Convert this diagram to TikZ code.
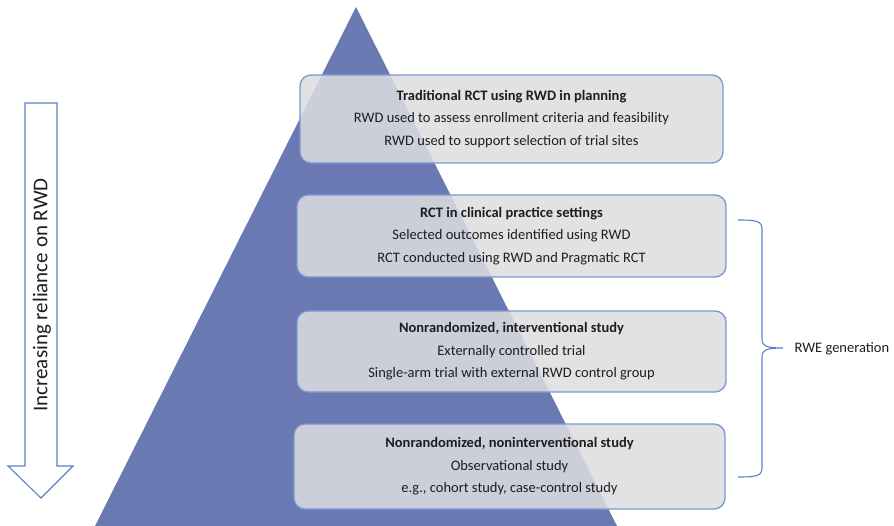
\documentclass[tikz,border=0pt]{standalone}
\usepackage{fontspec}
\setmainfont{Carlito}
\begin{document}
\begin{tikzpicture}[x=1pt,y=-1pt,
  pyramidfill/.style={fill={rgb,255:red,106;green,121;blue,178}, draw=none},
  tierbox/.style={draw={rgb,255:red,122;green,151;blue,208}, line width=1.3pt,
    fill={rgb,255:red,221;green,221;blue,224}, fill opacity=0.86, text opacity=1,
    rounded corners=11pt, align=center, inner sep=0pt,
    font=\fontsize{14.5}{22.5}\selectfont, text={rgb,255:red,30;green,30;blue,30}},
  blueline/.style={draw={rgb,255:red,91;green,128;blue,198}, line width=1.1pt},
  sidetext/.style={font=\fontsize{14.5}{17}\selectfont, text={rgb,255:red,30;green,30;blue,30}}
]
\useasboundingbox (0,0) rectangle (894,526);

% pyramid
\path[pyramidfill] (356,7) -- (617,526) -- (95,526) -- cycle;

% tier boxes
\node[tierbox, minimum width=423pt, minimum height=88pt] (t1) at (511.5,119)
  {\textbf{Traditional RCT using RWD in planning}\\
   RWD used to assess enrollment criteria and feasibility\\
   RWD used to support selection of trial sites};
\node[tierbox, minimum width=429pt, minimum height=82pt] (t2) at (511.5,236)
  {\textbf{RCT in clinical practice settings}\\
   Selected outcomes identified using RWD\\
   RCT conducted using RWD and Pragmatic RCT};
\node[tierbox, minimum width=429pt, minimum height=81pt] (t3) at (511.5,351.5)
  {\textbf{Nonrandomized, interventional study}\\
   Externally controlled trial\\
   Single-arm trial with external RWD control group};
\node[tierbox, minimum width=431pt, minimum height=85pt] (t4) at (509.5,466.5)
  {\textbf{Nonrandomized, noninterventional study}\\
   Observational study\\
   e.g., cohort study, case-control study};

% downward block arrow
\draw[blueline, line join=miter] (25,103) -- (57,103) -- (57,466) -- (73,466) -- (41,498)
  -- (8,466) -- (25,466) -- cycle;
\node[sidetext, font=\fontsize{21}{24}\selectfont, rotate=90] (axis) at (42,295)
  {Increasing reliance on RWD};

% brace grouping the lower tiers
\coordinate (btop) at (738,220);
\coordinate (bbot) at (738,477);
\coordinate (btip) at (783,348);
\node[sidetext, anchor=west] (rwe) at (791,349) {RWE generation};
\draw[blueline] (btop) .. controls (756,220) and (762,221) .. (762,229)
  -- (762,339) .. controls (762,346) and (766,348) .. (btip)
  (btip) .. controls (766,348) and (762,350) .. (762,357)
  -- (762,468) .. controls (762,476) and (756,477) .. (bbot);
\end{tikzpicture}
\end{document}
